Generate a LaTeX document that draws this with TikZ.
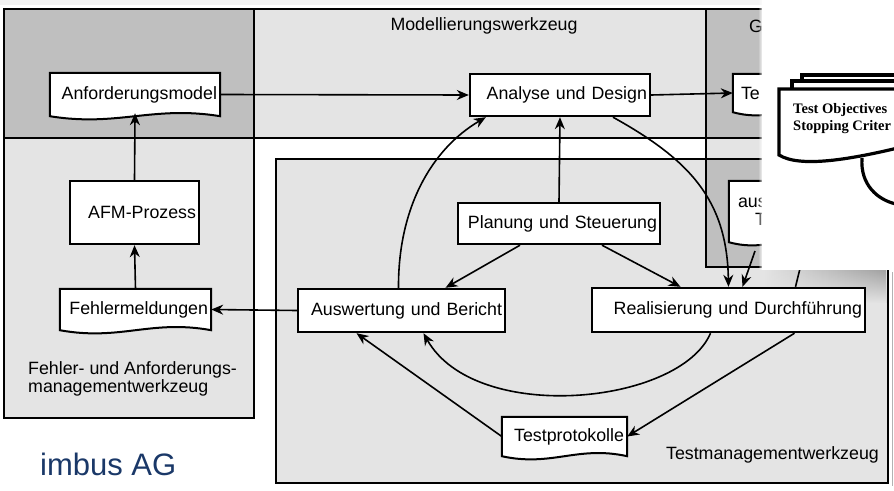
\documentclass[tikz,border=0pt]{standalone}
\usepackage{fontspec}
\setmainfont{Liberation Sans}
\newfontfamily\objfont{Liberation Serif}
\usetikzlibrary{arrows.meta,calc,fadings}

\definecolor{toolgray}{RGB}{228,228,228}
\definecolor{reqgray}{RGB}{191,191,191}
\definecolor{imbusblue}{RGB}{26,56,104}
\tikzstyle{proc} = [draw, line width=2.4pt, fill=white, align=right, inner xsep=3pt, inner ysep=0pt]

\tikzfading[name=fadeleft, left color=transparent!100, right color=transparent!0]
\tikzfading[name=fadeup, top color=transparent!100, bottom color=transparent!0]

\pgfdeclarelayer{frames}
\pgfdeclarelayer{docs}
\pgfsetlayers{frames,docs,main}

% wavy document outline round a node
\newcommand{\docshape}[1]{\draw[docline] (#1.south west) -- (#1.north west) -- (#1.north east) -- (#1.south east)
  .. controls ($(#1.south east)!0.4!(#1.south west)+(0,-11)$) and ($(#1.south west)!0.4!(#1.south east)+(0,11)$) .. (#1.south west) -- cycle;}

\begin{document}
\begin{tikzpicture}[x=1pt,y=-1pt,
		font=\fontsize{17.8}{19}\selectfont,
		box/.style={proc, text width=#1pt},
		doc/.style={inner xsep=3pt, inner ysep=0pt, align=right, text width=#1pt},
		frame/.style={draw, line width=2.3pt},
		docline/.style={draw, line width=2pt, fill=white},
		objline/.style={draw, line width=3.2pt, fill=white},
		lbl/.style={inner sep=0pt},
		arr/.style={line width=1.6pt, -{Stealth[length=12pt,width=10pt]}}]
	\useasboundingbox (0,0) rectangle (894,490);

	% tool areas
	\begin{pgfonlayer}{frames}
		\fill[gray!10] (0,0) rectangle (762,5);
		\draw[frame, fill=reqgray] (4,9) rectangle (254,138);
		\draw[frame, fill=toolgray] (254,9) rectangle (706,138);
		\draw[frame, fill=reqgray] (706,9) rectangle (900,138);
		\draw[frame, fill=toolgray] (4,138) rectangle (254,418);
		\draw[frame, fill=toolgray] (706,138) rectangle (900,159);
		\draw[frame, fill=toolgray] (276,159) rectangle (888,483);
		\draw[frame, fill=reqgray] (706,159) rectangle (900,267);
		\draw[gray!60, line width=1pt] (892,272) -- (892,486);
		\shade[left color=toolgray, right color=gray!75] (764,269) rectangle (886,302);
		\fill[toolgray, path fading=fadeup] (764,269) rectangle (886,303);
	\end{pgfonlayer}

	\node[lbl] (mlabel) at (484,26) {Modellierungswerkzeug};
	\node[lbl, anchor=west] (glabel) at (749,26) {G};
	\node[lbl, anchor=west, align=left, font=\fontsize{17.8}{18.5}\selectfont] (flabel) at (28,379) {Fehler- und Anforderungs-\\managementwerkzeug};
	\node[lbl, anchor=east] (tlabel) at (879,455) {Testmanagementwerkzeug};
	\node[lbl, anchor=west, text=imbusblue, font=\fontsize{31}{36}\selectfont] (imbus) at (40,464) {imbus AG};

	% processes
	\node[box=123, minimum height=63pt] (afm) at (134.5,212.5) {AFM-Prozess};
	\node[box=174, minimum height=42pt] (ana) at (560,95) {Analyse und Design};
	\node[box=196, minimum height=41pt] (plan) at (559,223.5) {Planung und Steuerung};
	\node[box=201, minimum height=43pt] (aus) at (401.5,310.5) {Auswertung und Bericht};
	\node[box=267, minimum height=44pt] (real) at (728.5,310) {Realisierung und Durchführung};

	% documents
	\node[doc=164, minimum height=43pt] (anf) at (135,94.5) {Anforderungsmodel};
	\node[doc=145, minimum height=41pt] (feh) at (135.5,309.5) {Fehlermeldungen};
	\node[doc=119, minimum height=39pt] (tpr) at (564.5,436.5) {Testprotokolle};
	\node[doc=84, inner xsep=8pt, align=left, minimum height=38pt] (ted) at (783,93) {Te};
	\node[doc=82, inner xsep=9pt, align=left, minimum height=61pt, font=\fontsize{17.8}{17.5}\selectfont] (ausd) at (779,211.5) {aus\\\hspace*{17pt}T};
	\begin{pgfonlayer}{docs}
		\docshape{anf}
		\docshape{feh}
		\docshape{tpr}
		\docshape{ted}
		\docshape{ausd}
	\end{pgfonlayer}
	\coordinate (ausw) at (755,251);
	\coordinate (hid) at (807,240);

	% flows
	\draw[arr] (feh.north) -- (afm.south);
	\draw[arr, shorten >=-3pt] (afm.north) -- (anf.south);
	\draw[arr] (anf.east) -- (ana.west);
	\draw[arr] (ana.east) -- (ted.west);
	\draw[arr] (plan.north) -- (ana.south);
	\draw[arr] ([xshift=-39pt]plan.south) -- ([xshift=44pt]aus.north);
	\draw[arr] ([xshift=43pt]plan.south) -- ([xshift=-48pt]real.north);
	\draw[arr] ([xshift=53pt]ana.south) .. controls (690,160) and (727,200) .. (real.north);
	\draw[arr] (ausw) -- ([xshift=14pt]real.north);
	\draw[line width=1.6pt] ([xshift=67pt]real.north) -- (hid);
	\draw[arr] ([xshift=-18pt]real.south) .. controls (680,405) and (475,425) .. ([xshift=22pt]aus.south);
	\draw[arr] (tpr.west) -- ([xshift=-45pt]aus.south);
	\draw[arr] ([xshift=66pt]real.south) -- (tpr.east);
	\draw[arr] (aus.west) -- (feh.east);
	\draw[arr] ([xshift=-3pt]aus.north) .. controls (398,210) and (430,150) .. ([xshift=17pt]ana.south west);

	% pasted cut-out on top
	\fill[white] (762,-2) rectangle (896,270);
	\fill[white, path fading=fadeleft] (758,-2) rectangle (763,270);
	\draw[objline] (802,75) rectangle (910,140);
	\draw[objline] (792,81) rectangle (910,146);
	\draw[objline] (779,155) -- (779,89) -- (910,89) -- (910,145) .. controls (850,160) and (800,168) .. (779,155) -- cycle;
	\draw[line width=3.2pt] (862,158) .. controls (860,185) and (878,200) .. (896,204);
	\node[lbl, anchor=west, align=left, font={\objfont\bfseries\fontsize{14.5}{17}\selectfont}] (obj) at (793,118.5) {Test Objectives\\Stopping Criter};
\end{tikzpicture}
\end{document}
